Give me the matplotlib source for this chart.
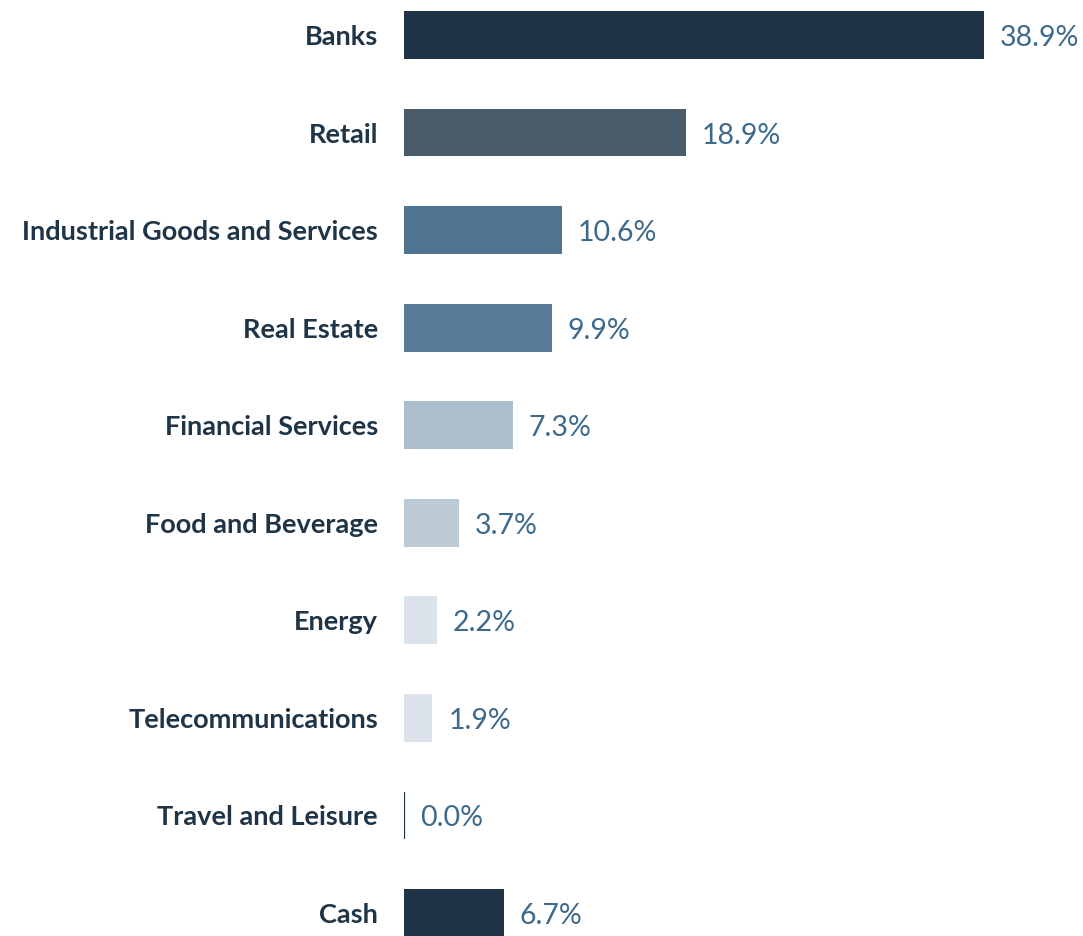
import matplotlib
matplotlib.use("Agg")
import matplotlib.pyplot as plt

categories = ["Banks", "Retail", "Industrial Goods and Services", "Real Estate",
              "Financial Services", "Food and Beverage", "Energy",
              "Telecommunications", "Travel and Leisure", "Cash"]
values = [38.9, 18.9, 10.6, 9.9, 7.3, 3.7, 2.2, 1.9, 0.0, 6.7]
value_labels = ["38.9%", "18.9%", "10.6%", "9.9%", "7.3%", "3.7%", "2.2%", "1.9%", "0.0%", "6.7%"]
colors = ["#1f3547", "#4a5c6a", "#4f7492", "#577b98", "#adbecc", "#bccad5",
          "#dce3ea", "#dce3ea", "#1f3547", "#1f3547"]

W, H = 1083, 936
fig = plt.figure(figsize=(W / 100, H / 100), dpi=100)
ax = fig.add_axes([404 / W, 0, 679 / W, 1])

ypos = list(range(len(categories)))
bars = ax.barh(ypos, values, height=0.49, color=colors, edgecolor=colors,
               linewidth=[0 if v > 0 else 1.6 for v in values])

ax.set_xlim(0, 679 / 14.91)
ax.set_ylim(9.236, -0.359)

for y, v, lab in zip(ypos, values, value_labels):
    ax.annotate(lab, xy=(v, y), xytext=(16, -3), textcoords="offset pixels",
                va="center", ha="left", fontsize=20.5, color="#3d6a8c",
                family=["Lato", "DejaVu Sans"])

ax.set_yticks(ypos)
ax.set_yticklabels(categories, fontsize=19.5, fontweight="bold", color="#1f3547",
                   family=["Lato", "DejaVu Sans"])
ax.tick_params(axis="y", length=0, pad=26 * 0.72)
ax.set_xticks([])
for s in ax.spines.values():
    s.set_visible(False)

fig.savefig("out.png", dpi=100)
